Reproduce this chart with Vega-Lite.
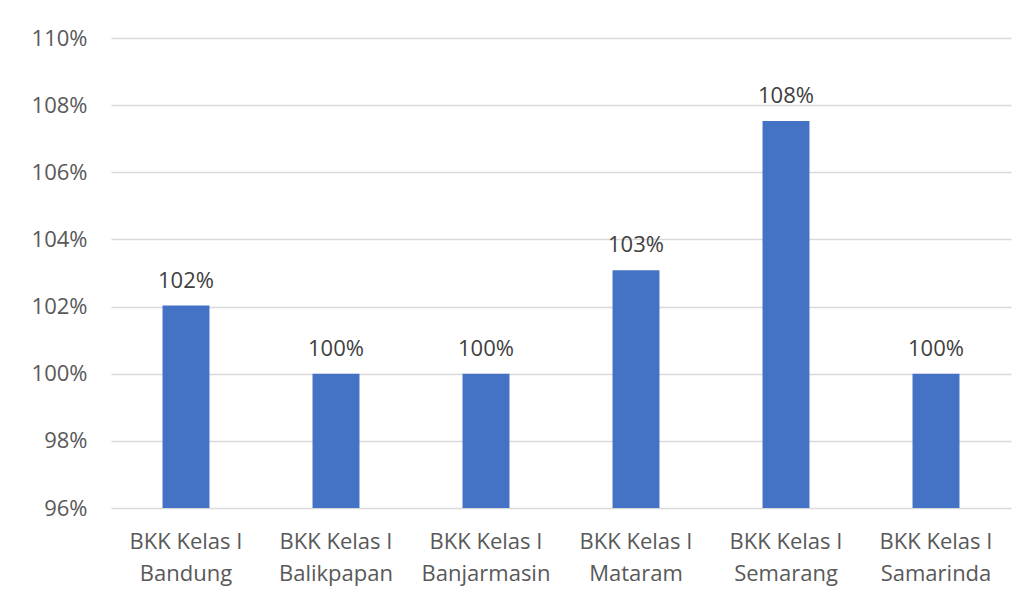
{
  "$schema": "https://vega.github.io/schema/vega-lite/v6.json",
  "width": 900,
  "height": 470,
  "autosize": {"type": "none"},
  "padding": {"left": 111, "top": 38, "right": 25, "bottom": 89},
  "background": "#ffffff",
  "config": {
    "view": {"stroke": null},
    "font": "Open Sans"
  },
  "data": {
    "values": [
      {"unit": "BKK Kelas I|Bandung", "value": 1.0203},
      {"unit": "BKK Kelas I|Balikpapan", "value": 1.0},
      {"unit": "BKK Kelas I|Banjarmasin", "value": 1.0},
      {"unit": "BKK Kelas I|Mataram", "value": 1.0308},
      {"unit": "BKK Kelas I|Semarang", "value": 1.0753},
      {"unit": "BKK Kelas I|Samarinda", "value": 1.0}
    ]
  },
  "encoding": {
    "x": {
      "field": "unit",
      "type": "nominal",
      "sort": null,
      "scale": {"paddingInner": 0.687, "paddingOuter": 0.3435},
      "axis": {
        "title": null,
        "labelAngle": 0,
        "labelExpr": "split(datum.label, '|')",
        "labelFont": "Open Sans",
        "labelFontSize": 22,
        "labelColor": "#595959",
        "labelLineHeight": 32,
        "labelBaseline": "alphabetic",
        "labelPadding": 40,
        "domain": false,
        "ticks": false
      }
    },
    "y": {
      "field": "value",
      "type": "quantitative",
      "scale": {"domain": [0.96, 1.10], "zero": false, "nice": false},
      "axis": {
        "title": null,
        "values": [0.96, 0.98, 1.0, 1.02, 1.04, 1.06, 1.08, 1.10],
        "format": ".0%",
        "labelFont": "Open Sans",
        "labelFontSize": 22,
        "labelColor": "#595959",
        "labelPadding": 24,
        "domain": false,
        "ticks": false,
        "gridColor": "#d9d9d9",
        "gridWidth": 1.5
      }
    }
  },
  "layer": [
    {
      "mark": {"type": "bar", "color": "#4472C4"},
      "encoding": {"y2": {"datum": 0.96}}
    },
    {
      "mark": {"type": "text", "baseline": "alphabetic", "dy": -18, "fontSize": 22, "color": "#404040", "font": "Open Sans"},
      "encoding": {"text": {"field": "value", "type": "quantitative", "format": ".0%"}}
    }
  ]
}
